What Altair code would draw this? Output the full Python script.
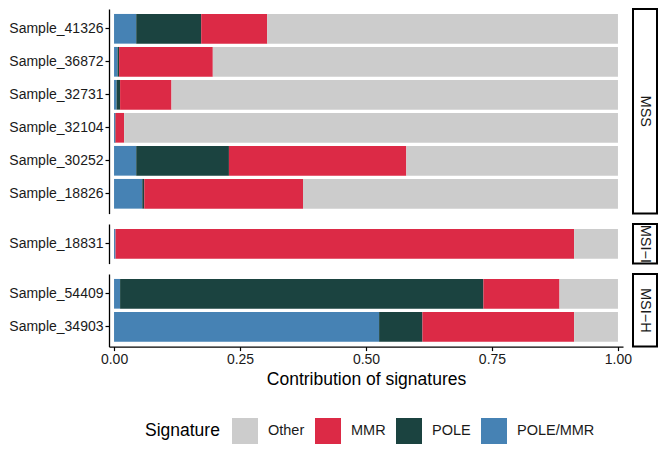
import altair as alt
import pandas as pd

FONT = "Liberation Sans"

samples = ["Sample_41326", "Sample_36872", "Sample_32731", "Sample_32104",
           "Sample_30252", "Sample_18826", "Sample_18831", "Sample_54409",
           "Sample_34903"]
groups = ["MSS", "MSS", "MSS", "MSS", "MSS", "MSS", "MSI−I", "MSI−H", "MSI−H"]
group_order = ["MSS", "MSI−I", "MSI−H"]

pole_mmr = [0.044, 0.007, 0.005, 0.002, 0.044, 0.056, 0.003, 0.012, 0.526]
pole     = [0.129, 0.003, 0.007, 0.001, 0.184, 0.004, 0.000, 0.721, 0.086]
mmr      = [0.131, 0.186, 0.102, 0.017, 0.352, 0.315, 0.910, 0.151, 0.301]
other    = [0.696, 0.804, 0.886, 0.980, 0.420, 0.625, 0.087, 0.116, 0.087]

signatures = ["Other", "MMR", "POLE", "POLE/MMR"]
sig_colors = ["#CCCCCC", "#DC2A46", "#1B4340", "#4682B4"]
stack_rank = {"POLE/MMR": 0, "POLE": 1, "MMR": 2, "Other": 3}

x_ticks = [0, 0.25, 0.5, 0.75, 1.0]

rows = []
for i, s in enumerate(samples):
    for sig, vals in (("POLE/MMR", pole_mmr), ("POLE", pole), ("MMR", mmr), ("Other", other)):
        rows.append({"sample": s, "group": groups[i], "signature": sig,
                     "value": vals[i], "rank": stack_rank[sig]})
df = pd.DataFrame(rows)

W = 514
STEP = 33
SW = 24

legend = alt.Legend(
    title="Signature", orient="none", legendX=36, legendY=409,
    direction="horizontal", columns=4, gridAlign="none", titleOrient="left",
    symbolType="square", symbolSize=676, symbolStrokeWidth=0,
    symbolOpacity=1, labelFontSize=14.5, labelFont=FONT, labelColor="#1a1a1a",
    titleFontSize=17.5, titleFont=FONT, titleFontWeight="normal",
    titleColor="#000000", labelOffset=10, columnPadding=10, titlePadding=12,
    padding=0, labelLimit=200,
)

bar_panels = []
strip_panels = []
for gi, g in enumerate(group_order):
    order = [s for s, gg in zip(samples, groups) if gg == g]
    n = len(order)
    h = STEP * (n + 0.2)
    sub = df[df["group"] == g]
    last = gi == len(group_order) - 1
    if last:
        xaxis = alt.Axis(values=x_ticks, format=".2f", title="Contribution of signatures",
                         grid=False, domainColor="#000000", domainWidth=1.3,
                         tickColor="#000000", tickWidth=1.2, tickSize=4,
                         labelFontSize=14, labelFont=FONT, labelColor="#1a1a1a",
                         labelPadding=2, titleFontSize=17.5, titleFont=FONT,
                         titleFontWeight="normal", titleColor="#000000",
                         titlePadding=4)
    else:
        xaxis = None
    chart = alt.Chart(sub).mark_bar().encode(
        x=alt.X("value:Q", stack="zero",
                scale=alt.Scale(domain=[-0.01, 1.01], nice=False, zero=False),
                axis=xaxis),
        y=alt.Y("sample:N", sort=order,
                scale=alt.Scale(paddingInner=0.1, paddingOuter=0.15),
                axis=alt.Axis(title=None, domainColor="#000000", domainWidth=1.3,
                              tickColor="#000000", tickWidth=1.2, tickSize=4,
                              labelFontSize=14, labelFont=FONT,
                              labelColor="#1a1a1a", labelPadding=2,
                              labelLimit=200)),
        color=alt.Color("signature:N",
                        scale=alt.Scale(domain=signatures, range=sig_colors),
                        legend=legend),
        order=alt.Order("rank:Q"),
    ).properties(width=W, height=h)
    bar_panels.append(chart)

    base = alt.Chart(pd.DataFrame({"group": [g]}))
    box = base.mark_rect(fill="white", stroke="black", strokeWidth=2).encode(
        x=alt.value(0), x2=alt.value(SW), y=alt.value(0), y2=alt.value(h))
    txt = base.mark_text(angle=90, fontSize=14.5, font=FONT, color="#1a1a1a",
                         clip=True, align="center", baseline="middle").encode(
        text="group:N", x=alt.value(SW / 2), y=alt.value(h / 2))
    strip_panels.append((box + txt).properties(width=SW, height=h))

bars_col = alt.vconcat(*bar_panels, spacing=10, bounds="flush").resolve_scale(color="shared")
strips_col = alt.vconcat(*strip_panels, spacing=10, bounds="flush")

chart = alt.hconcat(bars_col, strips_col, spacing=0).configure_view(
    strokeWidth=0
).properties(padding=0)

chart.save("out.html", embed_options={"renderer": "svg", "actions": False})
